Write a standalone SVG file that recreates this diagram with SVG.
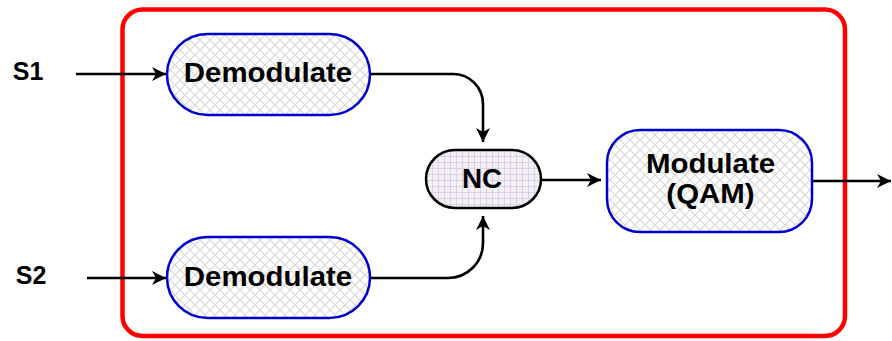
<svg xmlns="http://www.w3.org/2000/svg" width="892" height="341" viewBox="0 0 892 341">
<style>
.lbl{font-family:"Liberation Sans",Arial,sans-serif;font-weight:bold;font-size:27px;fill:#000;text-anchor:middle}
.blue{stroke:#0000cc;stroke-width:2.5;fill:url(#hatch)}
.nc{stroke:#000;stroke-width:2.5;fill:url(#grid)}
.conn{fill:none;stroke:#000;stroke-width:2.6}
</style>
<defs>
<pattern id="hatch" width="10" height="10" patternUnits="userSpaceOnUse">
<rect width="10" height="10" fill="#fff"/>
<path d="M0,0 L10,10 M10,0 L0,10 M-1,9 L1,11 M9,-1 L11,1" stroke="#d8d8d8" stroke-width="1.2"/>
</pattern>
<pattern id="grid" width="6" height="6" patternUnits="userSpaceOnUse">
<rect width="6" height="6" fill="#f3f1f6"/>
<path d="M0,0 L6,0 M0,0 L0,6" stroke="#d4cae6" stroke-width="1.6"/>
</pattern>
<marker id="arr" markerWidth="16" markerHeight="16" refX="14" refY="7" orient="auto" markerUnits="userSpaceOnUse">
<path d="M14,7 L0,0 L4,7 L0,14 Z" fill="#000"/>
</marker>
</defs>
<rect id="frame" x="122.5" y="9.5" width="722.5" height="326.5" rx="20" fill="none" stroke="#ff0000" stroke-width="4.5"/>
<g id="connectors">
<path class="conn" d="M76,74 L166,74" marker-end="url(#arr)"/>
<path class="conn" d="M87,278 L166,278" marker-end="url(#arr)"/>
<path class="conn" d="M370,74 L453,74 A30,30 0 0 1 483,104 L483,142" marker-end="url(#arr)"/>
<path class="conn" d="M370,278 L448,278 A35,35 0 0 0 483,243 L483,216" marker-end="url(#arr)"/>
<path class="conn" d="M541,180 L601,180" marker-end="url(#arr)"/>
<path class="conn" d="M812,181 L891,181" marker-end="url(#arr)"/>
</g>
<g id="S1"><text class="lbl" x="28" y="80" style="font-size:25px">S1</text></g>
<g id="S2"><text class="lbl" x="31" y="284" style="font-size:25px">S2</text></g>
<g id="demod1">
<rect class="blue" x="167" y="34" width="203" height="81" rx="40.5"/>
<text class="lbl" transform="translate(268 82) scale(1.09 1)">Demodulate</text>
</g>
<g id="demod2">
<rect class="blue" x="167" y="237" width="203" height="81" rx="40.5"/>
<text class="lbl" transform="translate(268 286) scale(1.09 1)">Demodulate</text>
</g>
<g id="nc">
<rect class="nc" x="426" y="150" width="115" height="58" rx="29"/>
<text class="lbl" transform="translate(482 188) scale(1.03 1)">NC</text>
</g>
<g id="modulate">
<rect class="blue" x="607" y="130" width="205" height="102" rx="33"/>
<text class="lbl" transform="translate(710.5 173) scale(1.09 1)">Modulate</text>
<text class="lbl" transform="translate(710.5 203) scale(1.09 1)">(QAM)</text>
</g>
</svg>
